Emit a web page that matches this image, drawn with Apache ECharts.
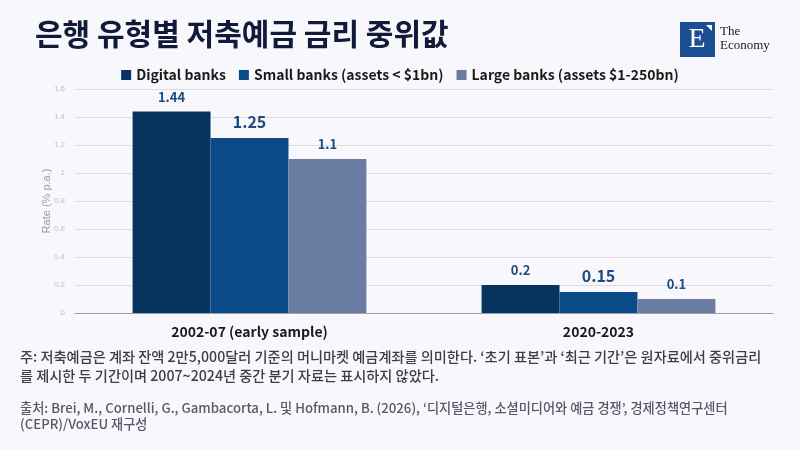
<!DOCTYPE html>
<html>
<head>
<meta charset="utf-8">
<script src="https://cdn.jsdelivr.net/npm/echarts@6/dist/echarts.min.js"></script>
<style>
  html, body { margin: 0; padding: 0; background: #f8f8fc; }
  #chart { width: 800px; height: 450px; }
</style>
</head>
<body>
<div id="chart"></div>
<script>
// data
var periods = ['2002-07 (early sample)', '2020-2023'];
var digitalBanks = [1.44, 0.2];
var smallBanks = [1.25, 0.15];
var largeBanks = [1.1, 0.1];
var seriesNames = ['Digital banks', 'Small banks (assets < $1bn)', 'Large banks (assets $1-250bn)'];

var FONT = '"Noto Sans CJK KR", "Noto Sans", sans-serif';
var chart = echarts.init(document.getElementById('chart'));

function barSeries(name, data, color, labelSize) {
    return {
        name: name,
        type: 'bar',
        data: data,
        barGap: '0%',
        barCategoryGap: '33%',
        itemStyle: { color: color },
        label: {
            show: true,
            position: 'top',
            distance: 8,
            color: '#1d4a7e',
            fontFamily: FONT,
            fontWeight: 'bold',
            fontSize: labelSize
        }
    };
}

chart.setOption({
    backgroundColor: '#f8f8fc',
    textStyle: { fontFamily: FONT },
    legend: {
        top: 63,
        left: 'center',
        itemWidth: 10,
        itemHeight: 10,
        itemGap: 13,
        icon: 'rect',
        textStyle: { fontSize: 14, fontWeight: 'bold', color: '#1a1a1a', fontFamily: FONT },
        data: seriesNames
    },
    grid: { left: 75, right: 27, top: 89, bottom: 137, containLabel: false },
    xAxis: {
        type: 'category',
        data: periods,
        axisTick: { show: false },
        axisLine: { lineStyle: { color: '#a0a0a8', width: 1 } },
        axisLabel: { fontSize: 14, fontWeight: 'bold', color: '#1a1a1a', margin: 12, fontFamily: FONT }
    },
    yAxis: {
        type: 'value',
        min: 0,
        max: 1.6,
        interval: 0.2,
        name: 'Rate (% p.a.)',
        nameLocation: 'middle',
        nameGap: 23,
        nameMoveOverlap: false,
        nameTextStyle: { fontSize: 11, color: '#9a9aa6', fontFamily: 'Liberation Sans, sans-serif' },
        axisLabel: { fontSize: 8, color: '#c0c0c8', margin: 10, fontFamily: 'Liberation Sans, sans-serif' },
        axisLine: { show: false },
        axisTick: { show: false },
        splitLine: { lineStyle: { color: '#dcdce4', width: 1 } }
    },
    series: [
        barSeries(seriesNames[0], digitalBanks, '#073460', 13),
        barSeries(seriesNames[1], smallBanks, '#0b4a88', 16),
        barSeries(seriesNames[2], largeBanks, '#6a7ca2', 13)
    ],
    graphic: [
        {
            type: 'text', left: 35, top: 19,
            style: { text: '은행 유형별 저축예금 금리 중위값', font: 'bold 30px ' + FONT, fill: '#121a3a' }
        },
        // logo
        { type: 'rect', shape: { x: 680, y: 22, width: 35, height: 35 }, style: { fill: '#1b4e92' } },
        {
            type: 'text', x: 697, y: 40,
            style: { text: 'E', font: '28px "Liberation Serif", serif', fill: '#ffffff', align: 'center', verticalAlign: 'middle' }
        },
        { type: 'polygon', shape: { points: [[706, 25], [712, 25], [712, 31]] }, style: { fill: '#ffffff' } },
        {
            type: 'text', x: 720, y: 25,
            style: { text: 'The\nEconomy', font: '13px "Liberation Serif", serif', lineHeight: 14, fill: '#222222' }
        },
        {
            type: 'text', left: 20, top: 347,
            style: {
                text: '주: 저축예금은 계좌 잔액 2만5,000달러 기준의 머니마켓 예금계좌를 의미한다. ‘초기 표본’과 ‘최근 기간’은 원자료에서 중위금리\n를 제시한 두 기간이며 2007~2024년 중간 분기 자료는 표시하지 않았다.',
                font: '500 14.2px ' + FONT, lineHeight: 19, fill: '#3a3d4a'
            }
        },
        {
            type: 'text', left: 20, top: 400,
            style: {
                text: '출처: Brei, M., Cornelli, G., Gambacorta, L. 및 Hofmann, B. (2026), ‘디지털은행, 소셜미디어와 예금 경쟁’, 경제정책연구센터\n(CEPR)/VoxEU 재구성',
                font: '500 13.2px ' + FONT, lineHeight: 16, fill: '#55586a'
            }
        }
    ]
});
</script>
</body>
</html>
